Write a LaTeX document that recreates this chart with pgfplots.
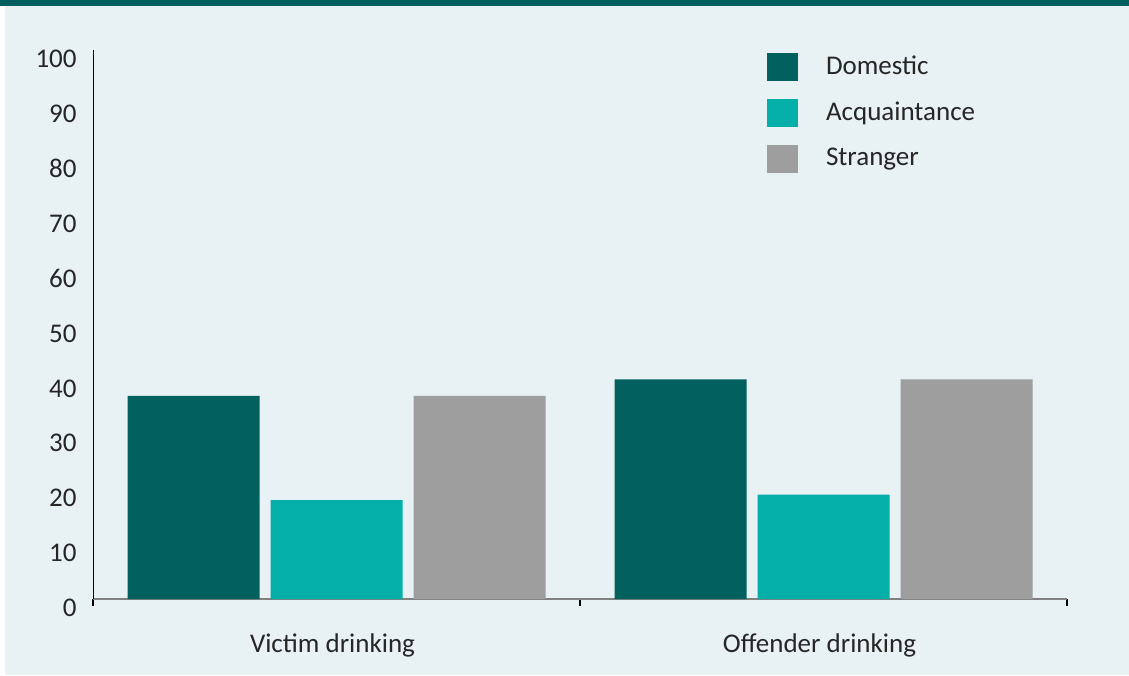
\documentclass[border=0pt]{standalone}
\usepackage{fontspec}
\setmainfont{Carlito}
\usepackage{pgfplots}
\pgfplotsset{compat=1.18}
\definecolor{bg}{HTML}{E8F1F3}
\definecolor{band}{HTML}{025F5E}
\definecolor{dom}{HTML}{02615F}
\definecolor{acq}{HTML}{05AFA9}
\definecolor{strg}{HTML}{9E9E9E}
\definecolor{txt}{HTML}{262626}
\begin{document}
\fontsize{13.5}{16}\selectfont
\begin{tikzpicture}[x=1pt,y=1pt]
\useasboundingbox (0,0) rectangle (564.5,337.5);
\fill[white] (0,0) rectangle (564.5,337.5);
\fill[bg] (2.5,0) rectangle (564.5,337.5);
\fill[band] (0,334.5) rectangle (564.5,337.5);
\begin{axis}[
  at={(46.5pt,38pt)}, anchor=south west,
  scale only axis, width=487pt, height=274.5pt,
  xmin=-0.5, xmax=1.5, ymin=0, ymax=100,
  enlargelimits=false,
  ybar=5.5pt, bar width=66pt,
  axis x line*=bottom, axis y line*=left,
  x axis line style={draw=gray, line width=0.75pt},
  y axis line style={draw=black, line width=0.5pt},
  xtick={-0.5,0.5,1.5},
  x tick label as interval,
  xticklabels={Victim drinking, Offender drinking},
  tick align=outside,
  major tick length=3.5pt,
  xtick style={draw=black, line width=0.6pt},
  ytick={0,10,...,100},
  ytick style={draw=none},
  /pgf/number format/assume math mode=true,
  tick label style={text=txt, font=\fontsize{13.5}{16}\selectfont},
  yticklabel style={yshift=-4.5pt, xshift=0pt},
  xticklabel style={yshift=-9pt, xshift=-2pt},
  legend style={at={(0.692,0.995)}, anchor=north west, draw=none, fill=none,
    text=txt, font=\fontsize{13.5}{16}\selectfont, row sep=9pt,
    inner sep=0pt, outer sep=0pt,
    nodes={inner sep=0pt},
    /tikz/every odd column/.append style={column sep=14pt}},
  legend cell align=left,
  legend image code/.code={\fill[#1] (0pt,-7pt) rectangle (15.5pt,7pt);},
]
\addplot[fill=dom, draw=none] coordinates {(0,37) (1,40)};
\addplot[fill=acq, draw=none] coordinates {(0,18) (1,19)};
\addplot[fill=strg, draw=none] coordinates {(0,37) (1,40)};
\legend{Domestic, Acquaintance, Stranger}
\end{axis}
\end{tikzpicture}
\end{document}
